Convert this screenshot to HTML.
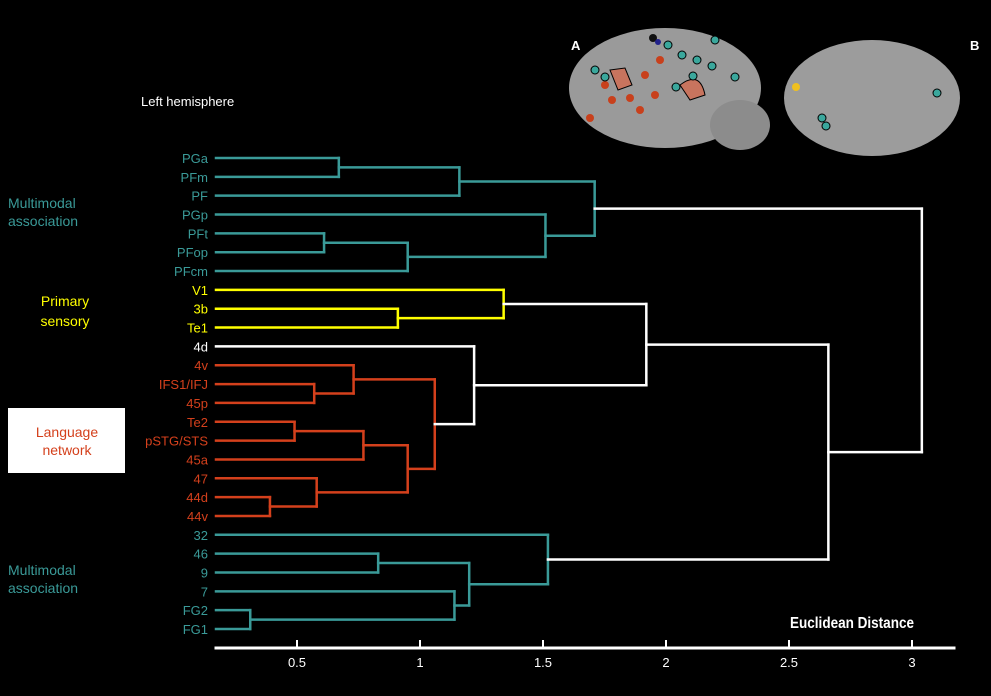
<!DOCTYPE html>
<html><head><meta charset="utf-8"><style>
body{margin:0;background:#000;width:991px;height:691px;overflow:hidden;font-family:"Liberation Sans",sans-serif}
</style></head><body>
<svg id="chart" width="991" height="691" xmlns="http://www.w3.org/2000/svg" font-family="Liberation Sans, sans-serif">
<g>
 <ellipse cx="665" cy="88" rx="96" ry="60" fill="#9a9a9a"/>
 <ellipse cx="740" cy="125" rx="30" ry="25" fill="#8c8c8c"/>
 <ellipse cx="872" cy="98" rx="88" ry="58" fill="#9c9c9c"/>
 <path d="M610 70 L625 68 L632 85 L618 90 Z" fill="#c8745e" stroke="#000"/>
 <path d="M680 85 Q700 70 705 95 L690 100 Z" fill="#c8745e" stroke="#000"/>
 <g fill="#c8401c"><circle cx="605" cy="85" r="4"/><circle cx="612" cy="100" r="4"/><circle cx="645" cy="75" r="4"/><circle cx="655" cy="95" r="4"/><circle cx="640" cy="110" r="4"/><circle cx="660" cy="60" r="4"/><circle cx="590" cy="118" r="4"/><circle cx="630" cy="98" r="4"/></g>
 <g fill="#3aa79c" stroke="#000"><circle cx="595" cy="70" r="4"/><circle cx="605" cy="77" r="4"/><circle cx="668" cy="45" r="4"/><circle cx="682" cy="55" r="4"/><circle cx="697" cy="60" r="4"/><circle cx="715" cy="40" r="4"/><circle cx="712" cy="66" r="4"/><circle cx="735" cy="77" r="4"/><circle cx="693" cy="76" r="4"/><circle cx="676" cy="87" r="4"/><circle cx="937" cy="93" r="4"/><circle cx="822" cy="118" r="4"/><circle cx="826" cy="126" r="4"/></g>
 <circle cx="653" cy="38" r="4" fill="#111"/><circle cx="658" cy="42" r="3" fill="#22228a"/>
 <circle cx="796" cy="87" r="4" fill="#f0c020"/>
 <text x="571" y="50" fill="#fff" font-size="13" font-weight="bold">A</text>
 <text x="970" y="50" fill="#fff" font-size="13" font-weight="bold">B</text>
</g>
<text x="141" y="106" fill="#fff" font-size="13">Left hemisphere</text>
<g font-size="14">
 <text x="8" y="208" fill="#3a9a98">Multimodal</text><text x="8" y="226" fill="#3a9a98">association</text>
 <text x="65" y="306" fill="#ffff00" text-anchor="middle">Primary</text><text x="65" y="326" fill="#ffff00" text-anchor="middle">sensory</text>
 <rect x="8" y="408" width="117" height="65" fill="#fff"/>
 <text x="67" y="437" fill="#d4401c" text-anchor="middle">Language</text><text x="67" y="455" fill="#d4401c" text-anchor="middle">network</text>
 <text x="8" y="575" fill="#3a9a98">Multimodal</text><text x="8" y="593" fill="#3a9a98">association</text>
</g>
<text x="790" y="628" fill="#fff" font-size="16" font-weight="bold" textLength="124" lengthAdjust="spacingAndGlyphs">Euclidean Distance</text>
<g id="dendro"></g>
<g id="axis"></g>
</svg>
<script>
const leaves=["PGa","PFm","PF","PGp","PFt","PFop","PFcm","V1","3b","Te1","4d","4v","IFS1/IFJ","45p","Te2","pSTG/STS","45a","47","44d","44v","32","46","9","7","FG2","FG1"];
const leafGroup=["t","t","t","t","t","t","t","y","y","y","w","r","r","r","r","r","r","r","r","r","t","t","t","t","t","t"];
const mergeLeft=[0,26,4,28,3,27,8,7,12,11,14,36,18,17,37,35,10,33,24,23,21,46,20,43,31];
const mergeRight=[1,2,5,6,29,30,9,32,13,34,15,16,19,38,39,40,41,42,25,44,22,45,47,48,49];
const mergeHeight=[0.67,1.16,0.61,0.95,1.51,1.71,0.91,1.34,0.57,0.73,0.49,0.77,0.39,0.58,0.95,1.06,1.22,1.92,0.31,1.14,0.83,1.2,1.52,2.66,3.04];
const mergeGroup=["t","t","t","t","t","t","y","y","r","r","r","r","r","r","r","r","w","w","t","t","t","t","t","w","w"];
const ticks=[0.5,1,1.5,2,2.5,3];
const tickLabels=["0.5","1","1.5","2","2.5","3"];
const colors={t:"#3a9a98",y:"#ffff00",r:"#d4401c",w:"#ffffff"};
const xs=v=>174+v*246;
const ys=i=>158+i*18.84;
const NS="http://www.w3.org/2000/svg";
const g=document.getElementById('dendro');
function line(parent,x1,y1,x2,y2,c,w){const l=document.createElementNS(NS,'line');l.setAttribute('x1',x1);l.setAttribute('y1',y1);l.setAttribute('x2',x2);l.setAttribute('y2',y2);l.setAttribute('stroke',c);l.setAttribute('stroke-width',w);l.setAttribute('stroke-linecap','square');parent.appendChild(l);return l;}
const nx=[],ny=[],ng=[];
leaves.forEach((n,i)=>{nx[i]=216;ny[i]=ys(i);ng[i]=leafGroup[i];
 const t=document.createElementNS(NS,'text');t.setAttribute('x',208);t.setAttribute('y',ys(i)+5);t.setAttribute('text-anchor','end');t.setAttribute('font-size','13');t.setAttribute('fill',colors[leafGroup[i]]);t.textContent=n;
 
 
 g.appendChild(t);});
mergeHeight.forEach((h,k)=>{const id=leaves.length+k,a=mergeLeft[k],b=mergeRight[k],x=xs(h);
 nx[id]=x;ny[id]=(ny[a]+ny[b])/2;ng[id]=mergeGroup[k];
 const pw=mergeGroup[k]==='w';
 const ca=pw?colors.w:colors[ng[a]], cb=pw?colors.w:colors[ng[b]];
 const la=line(g,nx[a],ny[a],x,ny[a],ca,2.5);
 
 
 const lb=line(g,nx[b],ny[b],x,ny[b],cb,2.5);
 
 
 const lv=line(g,x,ny[a],x,ny[b],colors[mergeGroup[k]],2.5);
 
 
});
const ax=document.getElementById('axis');
const al=line(ax,216,648,954,648,'#fff',3);


ticks.forEach((v,i)=>{const tl=line(ax,xs(v),641,xs(v),648,'#fff',2);
 
 
 const t=document.createElementNS(NS,'text');t.setAttribute('x',xs(v));t.setAttribute('y',667);t.setAttribute('text-anchor','middle');t.setAttribute('font-size','13');t.setAttribute('fill','#fff');t.textContent=tickLabels[i];
 
 
 ax.appendChild(t);});
</script>
</body></html>
